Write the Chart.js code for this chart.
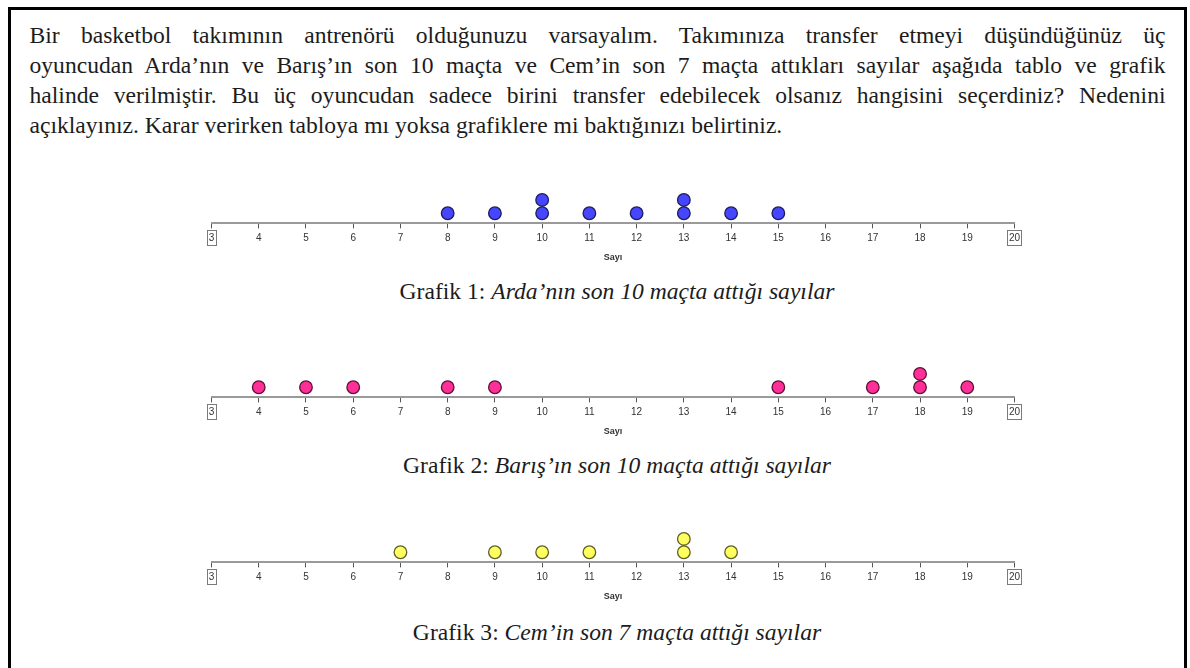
<!DOCTYPE html>
<html><head><meta charset="utf-8">
<script src="https://cdn.jsdelivr.net/npm/chart.js@4.4.0/dist/chart.umd.min.js"></script>
<style>
html,body{margin:0;padding:0;background:#fff;width:1190px;height:668px;overflow:hidden;}
#frame{position:absolute;left:8px;top:7px;width:1173px;height:720px;border:3px solid #000;}
.para{position:absolute;left:29.5px;top:20px;width:1136px;font-family:"Liberation Serif","Times New Roman",serif;font-size:23.6px;line-height:30px;color:#1c1c1c;}
.para div{text-align:justify;text-align-last:justify;white-space:nowrap;}
.para div.last{text-align:left;text-align-last:left;}
.cap{position:absolute;left:317px;width:600px;text-align:center;font-family:"Liberation Serif","Times New Roman",serif;font-size:23.6px;line-height:24px;color:#1c1c1c;white-space:nowrap;}
.cap i{font-style:italic;}
canvas.plot{position:absolute;left:0;}
</style>
</head><body>
<div id="frame"></div>
<div class="para">
<div>Bir basketbol takımının antrenörü olduğunuzu varsayalım. Takımınıza transfer etmeyi düşündüğünüz üç</div>
<div>oyuncudan Arda’nın ve Barış’ın son 10 maçta ve Cem’in son 7 maçta attıkları sayılar aşağıda tablo ve grafik</div>
<div>halinde verilmiştir. Bu üç oyuncudan sadece birini transfer edebilecek olsanız hangisini seçerdiniz? Nedenini</div>
<div class="last">açıklayınız. Karar verirken tabloya mı yoksa grafiklere mi baktığınızı belirtiniz.</div>
</div>
<canvas class="plot" id="c1" width="1190" height="90" style="top:178.5px"></canvas>
<canvas class="plot" id="c2" width="1190" height="90" style="top:352.5px"></canvas>
<canvas class="plot" id="c3" width="1190" height="90" style="top:518px"></canvas>
<div class="cap" style="top:279px">Grafik 1: <i>Arda’nın son 10 maçta attığı sayılar</i></div>
<div class="cap" style="top:453px">Grafik 2: <i>Barış’ın son 10 maçta attığı sayılar</i></div>
<div class="cap" style="top:620px">Grafik 3: <i>Cem’in son 7 maçta attığı sayılar</i></div>
<script>
// ---- data ----
const tickLabels = ['3','4','5','6','7','8','9','10','11','12','13','14','15','16','17','18','19','20'];
const axisTitle = 'Sayı';
const ardaScores  = [8, 9, 10, 10, 11, 12, 13, 13, 14, 15];
const barisScores = [4, 5, 6, 8, 9, 15, 17, 18, 18, 19];
const cemScores   = [7, 9, 10, 11, 13, 13, 14];

// dot-plot stacking: each repeated score sits one level higher
function toDots(scores){
  const seen = {};
  return scores.map(s => { seen[s] = (seen[s] || 0) + 1; return {x: s, y: seen[s]}; });
}

const TICK_LEN = 5, TICK_PAD = 4, TICK_FONT = 10;

const endBoxPlugin = {
  id: 'endBox',
  afterDraw(chart){
    const sx = chart.scales.x, ctx = chart.ctx;
    ctx.save();
    ctx.font = TICK_FONT + 'px "Liberation Sans", Arial, sans-serif';
    ctx.strokeStyle = '#7a7a7a';
    ctx.lineWidth = 1;
    [0, tickLabels.length - 1].forEach(i => {
      const v = Number(tickLabels[i]);
      const px = sx.getPixelForValue(v);
      const w = ctx.measureText(tickLabels[i]).width;
      const cy = sx.top + TICK_LEN + TICK_PAD + TICK_FONT * 0.6;
      ctx.strokeRect(Math.round(px - w/2 - 2) + 0.5, Math.round(cy - 8) + 0.5, Math.round(w + 3), 15);
    });
    ctx.restore();
  }
};

function makeChart(id, scores, fill, border){
  new Chart(document.getElementById(id), {
    type: 'scatter',
    data: { datasets: [{
      data: toDots(scores),
      pointRadius: 6.3,
      pointHoverRadius: 6.3,
      pointBackgroundColor: fill,
      pointBorderColor: border,
      pointBorderWidth: 1.3,
      clip: false
    }]},
    options: {
      responsive: false,
      animation: false,
      events: [],
      layout: { padding: { left: 211.5, right: 175.5, top: 5, bottom: 6.2 } },
      plugins: { legend: { display: false }, tooltip: { enabled: false } },
      scales: {
        x: {
          type: 'linear', min: 3, max: 20,
          border: { display: true, color: '#9a9a9a', width: 2 },
          grid: { display: true, drawOnChartArea: false, drawTicks: true, tickLength: TICK_LEN, color: '#555', lineWidth: 1 },
          ticks: {
            stepSize: 1, autoSkip: false, maxRotation: 0, padding: TICK_PAD,
            color: '#333',
            font: { family: '"Liberation Sans", Arial, sans-serif', size: TICK_FONT },
            callback: (v, i) => tickLabels[i]
          },
          title: {
            display: true, text: axisTitle, color: '#333',
            font: { family: '"Liberation Sans", Arial, sans-serif', size: 9, weight: 'bold' },
            padding: { top: 4, bottom: 0 }
          }
        },
        y: { display: false, min: 0.24, max: 3 }
      }
    },
    plugins: [endBoxPlugin]
  });
}

makeChart('c1', ardaScores,  '#4646ff', '#1d1d5c');
makeChart('c2', barisScores, '#ff2f9a', '#5c1234');
makeChart('c3', cemScores,   '#ffff5e', '#5e5e2a');
</script>
</body></html>
